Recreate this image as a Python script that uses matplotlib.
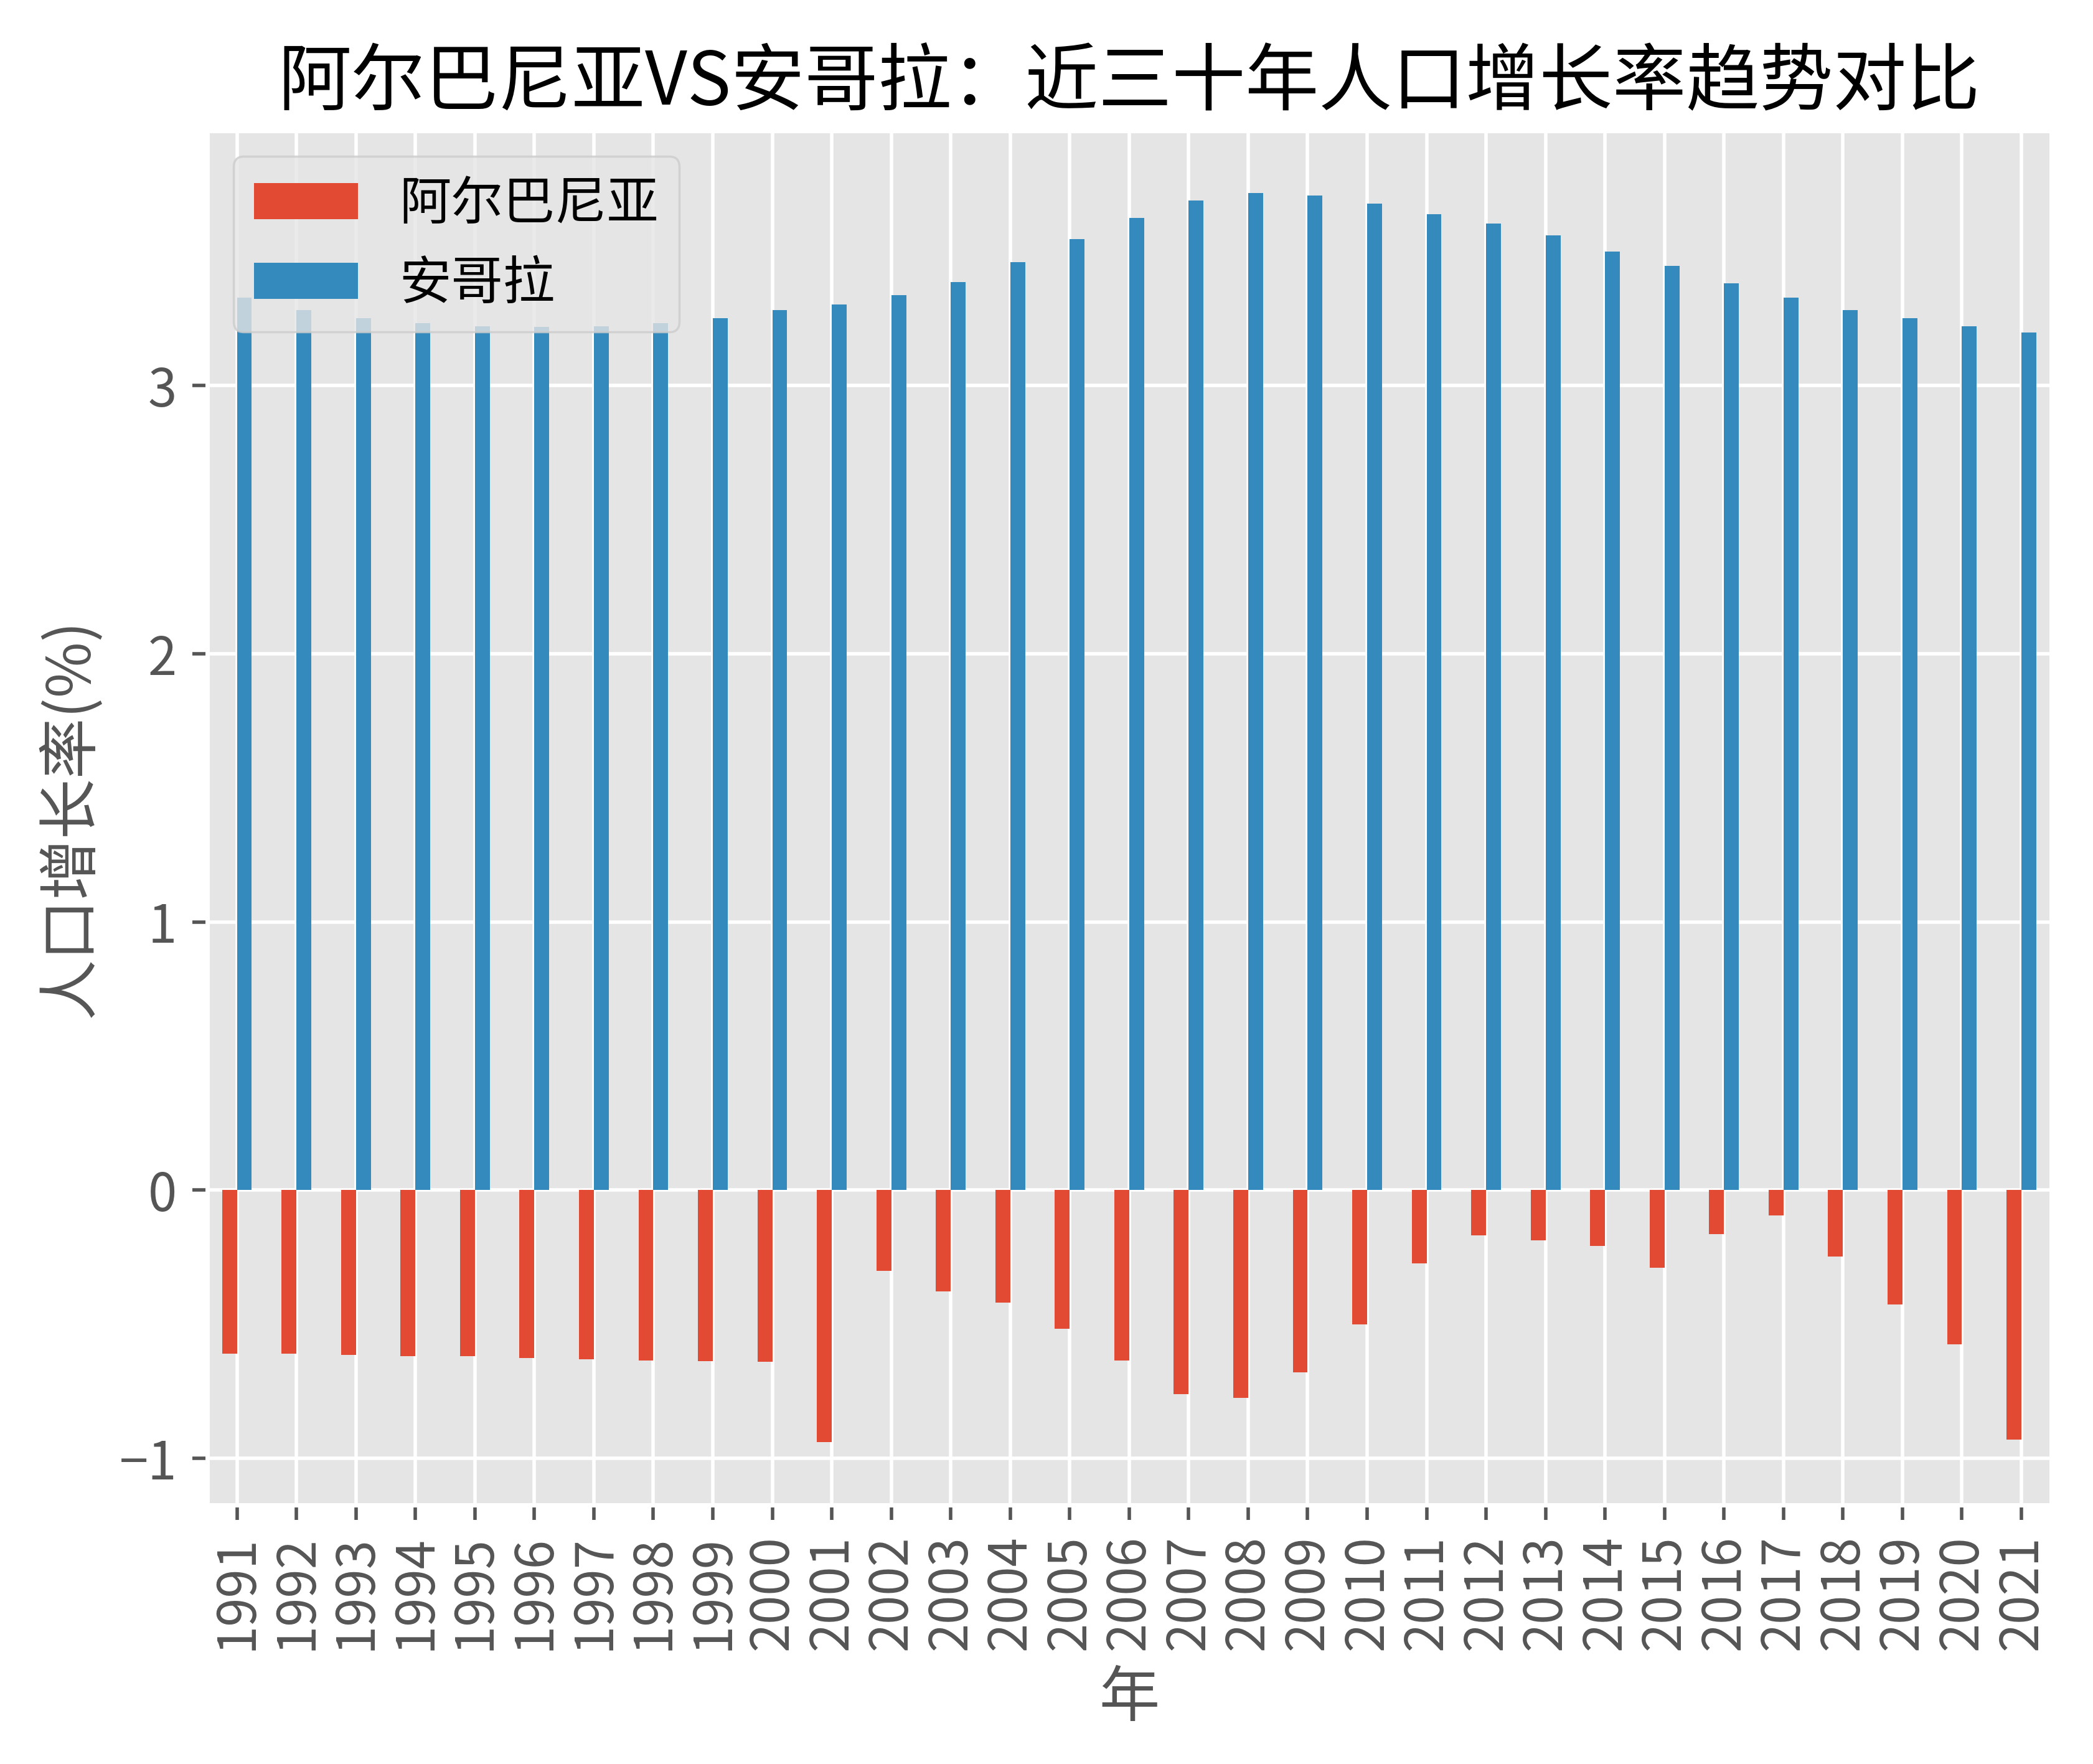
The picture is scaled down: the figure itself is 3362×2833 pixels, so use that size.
import matplotlib
matplotlib.use('Agg')
import matplotlib.pyplot as plt
import pandas as pd

plt.style.use('ggplot')
plt.rcParams['font.family'] = ['Noto Sans CJK SC', 'DejaVu Sans']
plt.rcParams['axes.unicode_minus'] = True

years = list(range(1991, 2022))
albania = [-0.61, -0.61, -0.615, -0.62, -0.62, -0.625, -0.63, -0.635, -0.637, -0.64,
           -0.94, -0.30, -0.377, -0.42, -0.516, -0.635, -0.76, -0.774, -0.68, -0.50,
           -0.273, -0.169, -0.188, -0.208, -0.29, -0.164, -0.094, -0.248, -0.427, -0.575,
           -0.93]
angola = [3.327, 3.282, 3.252, 3.232, 3.222, 3.218, 3.222, 3.232, 3.252, 3.282,
          3.302, 3.337, 3.386, 3.46, 3.545, 3.624, 3.689, 3.718, 3.708, 3.679,
          3.639, 3.604, 3.56, 3.50, 3.446, 3.381, 3.327, 3.282, 3.252, 3.222,
          3.198]

df = pd.DataFrame({'阿尔巴尼亚': albania, '安哥拉': angola}, index=years)

fig, ax = plt.subplots(figsize=(3362 / 500, 2833 / 500), dpi=500)
fig.subplots_adjust(left=0.099, right=0.980, top=0.926, bottom=0.147)
df.plot(kind='bar', ax=ax)

# 标题和轴标签
ax.set_title('阿尔巴尼亚VS安哥拉：近三十年人口增长率趋势对比', fontsize=17, color='black')
ax.set_xlabel('年', fontsize=14)
ax.set_ylabel('人口增长率(%)', fontsize=14)
ax.tick_params(axis='both', labelsize=12)
ax.legend(fontsize=12, loc='upper left')

fig.savefig('out.png', dpi=500)
